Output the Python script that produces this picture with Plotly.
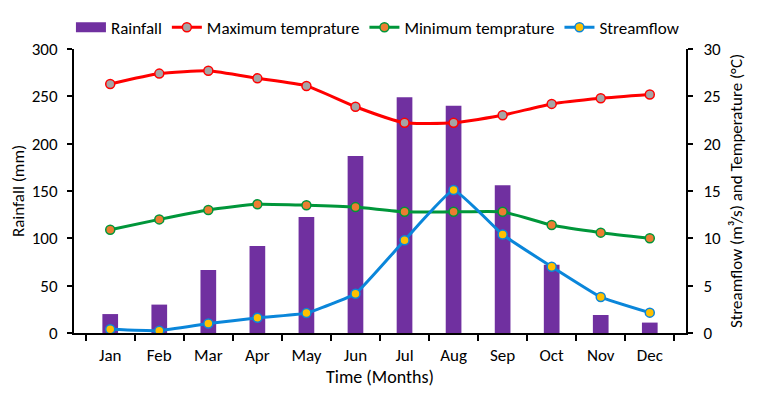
import plotly.graph_objects as go

months = ["Jan", "Feb", "Mar", "Apr", "May", "Jun", "Jul", "Aug", "Sep", "Oct", "Nov", "Dec"]
rainfall = [20, 30, 66.5, 92, 122.5, 187, 249, 240, 156, 72, 19, 11]
max_temp = [26.3, 27.4, 27.7, 26.9, 26.1, 23.9, 22.2, 22.2, 23.0, 24.2, 24.8, 25.2]
min_temp = [10.9, 12.0, 13.0, 13.6, 13.5, 13.3, 12.8, 12.8, 12.8, 11.4, 10.6, 10.0]
streamflow = [0.4, 0.25, 1.0, 1.6, 2.1, 4.15, 9.8, 15.1, 10.4, 7.0, 3.8, 2.15]

FONT = "Carlito, Calibri, Lato, sans-serif"
PURPLE = "#7030A0"

fig = go.Figure()
fig.add_trace(go.Bar(x=months, y=rainfall, name="Rainfall", showlegend=False,
                     marker=dict(color=PURPLE, line=dict(width=0)), yaxis="y"))
# legend entry for the bars (wide rectangle symbol like the reference)
fig.add_trace(go.Scatter(x=[None], y=[None], name="Rainfall", mode="lines",
                         line=dict(color=PURPLE, width=10), yaxis="y"))
fig.add_trace(go.Scatter(x=months, y=max_temp, name="Maximum temprature", mode="lines+markers", yaxis="y2",
                         line=dict(color="#FF0000", width=3, shape="spline", smoothing=0.5),
                         marker=dict(color="#A5A5A5", size=9, line=dict(color="#FF0000", width=1.5))))
fig.add_trace(go.Scatter(x=months, y=min_temp, name="Minimum temprature", mode="lines+markers", yaxis="y2",
                         line=dict(color="#00963A", width=3, shape="spline", smoothing=0.5),
                         marker=dict(color="#ED7D31", size=9, line=dict(color="#00963A", width=1.5))))
fig.add_trace(go.Scatter(x=months, y=streamflow, name="Streamflow", mode="lines+markers", yaxis="y2",
                         line=dict(color="#0A86DA", width=3, shape="spline", smoothing=0.3),
                         marker=dict(color="#FFC000", size=9, line=dict(color="#0A86DA", width=1.5))))

fig.update_layout(
    width=749, height=387,
    margin=dict(l=66, r=71, t=41, b=62, autoexpand=False),
    plot_bgcolor="white", paper_bgcolor="white",
    font=dict(family=FONT, size=17, color="black"),
    bargap=0.68,
    showlegend=True,
    legend=dict(orientation="h", x=-0.005, xanchor="left", y=1.075, yanchor="middle",
                font=dict(size=17), itemwidth=30, tracegroupgap=0,
                bgcolor="rgba(0,0,0,0)"),
    xaxis=dict(showline=True, linecolor="black", linewidth=2, ticks="outside", tickson="boundaries",
               ticklen=6, tickwidth=2, tickcolor="black", showgrid=False, ticklabelstandoff=6,
               title=dict(text="Time (Months)", standoff=5, font=dict(size=18))),
    yaxis=dict(range=[0, 300], dtick=50, showline=True, linecolor="black", linewidth=2, ticks="outside",
               ticklen=5, tickwidth=2, tickcolor="black", showgrid=False, zeroline=False,
               ticklabelstandoff=6,
               title=dict(text="Rainfall (mm)", standoff=14, font=dict(size=17))),
    yaxis2=dict(range=[0, 30], dtick=5, overlaying="y", side="right", showline=True, linecolor="black",
                linewidth=2, ticks="outside", ticklen=5, tickwidth=2, tickcolor="black", showgrid=False,
                zeroline=False, ticklabelstandoff=7,
                title=dict(text="Streamflow (m³/s) and Temperature (°C)", standoff=10, font=dict(size=17))),
)

fig.write_html("out.html")
